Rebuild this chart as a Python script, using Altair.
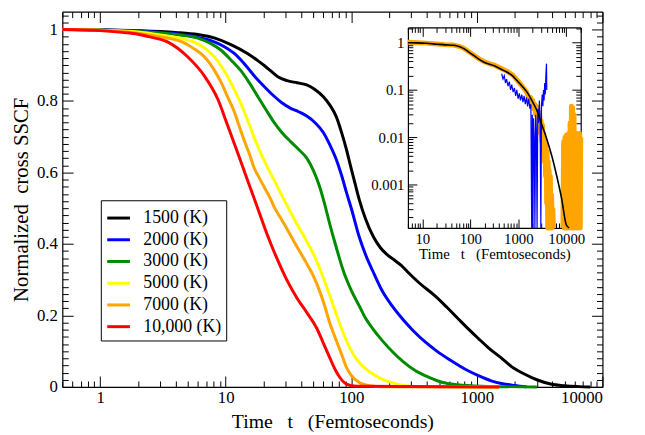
import altair as alt
import pandas as pd

FONT = "Liberation Serif"
W, H = 547, 380
IL, IR, IT, IB = 350, 525, 16, 219  # inset box inside the plot area

names = ["1500 (K)", "2000 (K)", "3000 (K)", "5000 (K)", "7000 (K)", "10,000 (K)"]
colors = ["#000000", "#0000ff", "#008b00", "#ffff00", "#ffa500", "#ff0000"]

t_1500 = [0.5, 1, 2, 4, 6, 8.2, 11, 14.9, 18, 20.5, 22.7, 26, 30.8, 37, 44.2, 51, 59.9, 68, 76.2, 84,
          91.4, 100, 107, 115.6, 130, 150, 170, 190, 220, 250, 288, 350, 467, 580, 713, 850, 1024, 1250,
          1563, 1900, 2388, 3000, 3870, 5000, 6500, 8000]
y_1500 = [1.0, 0.999, 0.997, 0.992, 0.986, 0.976, 0.958, 0.933, 0.913, 0.898, 0.885, 0.868, 0.857, 0.851,
          0.845, 0.833, 0.812, 0.787, 0.755, 0.71, 0.665, 0.61, 0.57, 0.525, 0.47, 0.42, 0.39, 0.372, 0.355,
          0.34, 0.318, 0.29, 0.254, 0.222, 0.19, 0.163, 0.136, 0.108, 0.081, 0.056, 0.036, 0.02, 0.008,
          0.003, 0.0008, 0.0]

t_2000 = [0.5, 1, 2, 4, 6, 8.2, 10, 11.7, 14, 17.9, 21, 24.2, 28, 32.7, 38, 44.2, 52, 59.9, 68, 76.2, 84,
          91.4, 100, 115.6, 130, 148, 178, 210, 256, 310, 390, 480, 594, 720, 853, 1050, 1300, 1600, 2000, 2500]
y_2000 = [1.0, 0.999, 0.996, 0.988, 0.978, 0.965, 0.95, 0.933, 0.905, 0.86, 0.835, 0.814, 0.795, 0.78,
          0.77, 0.758, 0.738, 0.712, 0.675, 0.635, 0.59, 0.545, 0.5, 0.42, 0.37, 0.325, 0.266, 0.228, 0.19,
          0.158, 0.125, 0.1, 0.078, 0.06, 0.045, 0.03, 0.017, 0.009, 0.004, 0.0]

t_3000 = [0.5, 1, 2, 4, 6, 7.5, 9.2, 11, 13.2, 15.5, 17.9, 21, 24.2, 28, 32.7, 38, 44.2, 50, 56, 61, 67.5,
          76, 86, 100, 115.6, 130, 148, 178, 212, 260, 325, 420, 527, 700, 1089, 3000]
y_3000 = [1.0, 0.999, 0.995, 0.986, 0.976, 0.962, 0.942, 0.915, 0.885, 0.85, 0.814, 0.775, 0.741, 0.712,
          0.687, 0.665, 0.64, 0.605, 0.56, 0.515, 0.455, 0.39, 0.327, 0.27, 0.227, 0.192, 0.163, 0.128,
          0.099, 0.07, 0.045, 0.026, 0.013, 0.006, 0.002, 0.0]

t_5000 = [0.5, 1, 2, 3, 4.45, 6, 7, 8.2, 9.2, 10.4, 11.7, 13.2, 14.5, 15.8, 17.3, 19, 20.8, 22.7, 25, 27.3,
          30, 32.7, 36, 39.2, 43, 47, 51, 56, 61, 67.5, 74, 80.9, 91.4, 97, 110, 131, 155, 178, 220, 256,
          320, 1500]
y_5000 = [1.0, 0.998, 0.993, 0.985, 0.975, 0.96, 0.945, 0.922, 0.898, 0.867, 0.832, 0.793, 0.758, 0.724,
          0.688, 0.654, 0.625, 0.598, 0.57, 0.543, 0.515, 0.49, 0.463, 0.44, 0.415, 0.39, 0.365, 0.332,
          0.298, 0.255, 0.215, 0.177, 0.13, 0.11, 0.078, 0.05, 0.032, 0.021, 0.01, 0.005, 0.001, 0.0]

t_7000 = [0.5, 1, 2, 3, 4.45, 5.5, 6.8, 8, 9.2, 10.4, 11.7, 12.8, 14.1, 15.5, 16.8, 18.5, 20.2, 22.7, 24.2,
          27.3, 31, 34.7, 39, 44.2, 50, 56, 61, 67.5, 74, 80.9, 86, 91.4, 100, 115.6, 140, 178, 1500]
y_7000 = [1.0, 0.998, 0.99, 0.98, 0.966, 0.948, 0.923, 0.89, 0.852, 0.81, 0.77, 0.73, 0.688, 0.65, 0.614,
          0.585, 0.56, 0.527, 0.505, 0.473, 0.44, 0.409, 0.378, 0.345, 0.31, 0.268, 0.23, 0.178, 0.14,
          0.105, 0.08, 0.055, 0.032, 0.012, 0.003, 0.0005, 0.0]

t_10000 = [0.5, 1, 1.5, 2, 2.43, 3.5, 5, 6.8, 8.66, 10.35, 12.43, 14.9, 17.87, 21.43, 25.69, 30.8, 36.9,
           44.3, 53.1, 60, 67.5, 74, 80.9, 91.4, 110, 1500]
y_10000 = [1.0, 0.997, 0.992, 0.987, 0.98, 0.964, 0.923, 0.869, 0.805, 0.732, 0.656, 0.579, 0.503, 0.426,
           0.358, 0.298, 0.249, 0.208, 0.164, 0.122, 0.081, 0.05, 0.027, 0.008, 0.002, 0.0]

# inset: smooth fit (black), data (orange, two pieces), noisy data (blue)
it_fit = [5, 8, 12, 20, 30, 45, 60, 73, 90, 117, 150, 189, 250, 305, 420, 575, 750, 927, 1200, 1493,
          2000, 2400, 3000, 3875, 5000, 6240, 8000, 10000, 11500]
iy_fit = [1.0, 0.99, 0.97, 0.93, 0.9, 0.88, 0.82, 0.75, 0.65, 0.54, 0.45, 0.39, 0.35, 0.33, 0.28, 0.24,
          0.2, 0.16, 0.12, 0.092, 0.055, 0.038, 0.02, 0.0095, 0.004, 0.0016, 0.0005, 0.00014, 0.00005]

io_t_a = [5, 8, 12, 20, 30, 45, 60, 73, 90, 117, 150, 189, 250, 305, 420, 575, 750, 927, 1200, 1493,
          1600, 1700, 1800, 1900, 2000, 2100, 2200, 2300, 2400, 2500, 2600, 2700, 2800, 2900, 3000, 3100,
          3200, 3300, 3400, 3500, 3600, 3700, 3800, 3900, 4000, 4100, 4200, 4300, 4400, 4500, 4650, 4800,
          4950, 5100, 5250, 5400]
io_y_a = [1.02, 1.0, 0.98, 0.94, 0.91, 0.89, 0.83, 0.76, 0.66, 0.55, 0.46, 0.4, 0.36, 0.34, 0.29, 0.25,
          0.21, 0.165, 0.12, 0.09, 0.075, 0.06, 0.07, 0.05, 0.06, 0.04, 0.05, 0.03, 0.045, 0.025, 0.035,
          0.018, 0.03, 0.012, 0.022, 0.008, 0.018, 0.005, 0.012, 0.003, 0.009, 0.0015, 0.007, 0.0004,
          0.005, 1e-6, 0.003, 1e-6, 0.002, 1e-6, 0.0015, 1e-6, 0.0006, 1e-6, 0.0003, 1e-6]
io_t_b = [8500, 8800, 9100, 9400, 9700, 10000, 10300, 10600, 10900, 11200, 11600, 12000, 12400, 12800,
          13200, 13600, 14000, 14500, 15000, 15500, 16000, 16600, 17200, 17800, 18400, 19000, 19600, 20000]
io_y_b = [1e-6, 0.008, 1e-6, 0.01, 1e-6, 0.011, 1e-6, 0.011, 1e-6, 0.012, 1e-6, 0.02, 1e-6, 0.045, 1e-6,
          0.042, 1e-6, 0.03, 1e-6, 0.012, 1e-6, 0.012, 1e-6, 0.011, 1e-6, 0.012, 1e-6, 0.01]

ib_t = [450, 480, 510, 540, 570, 610, 650, 690, 730, 780, 830, 880, 930, 990, 1050, 1110, 1180, 1250,
        1320, 1400, 1480, 1560, 1650, 1740, 1830, 1900, 1960, 2020, 2080, 2150, 2220, 2300, 2380, 2460,
        2550, 2650, 2750, 2850, 2950, 3050, 3150, 3250, 3350, 3450, 3550, 3650, 3750, 3870, 3920]
ib_y = [0.22, 0.17, 0.2, 0.14, 0.17, 0.12, 0.15, 0.1, 0.13, 0.09, 0.11, 0.075, 0.1, 0.065, 0.085, 0.06,
        0.08, 0.055, 0.075, 0.05, 0.07, 0.045, 0.065, 0.04, 0.05, 1e-6, 0.03, 1e-6, 0.025, 0.01, 1e-6,
        0.03, 0.015, 1e-6, 0.04, 0.02, 0.06, 0.025, 1e-6, 0.05, 0.08, 0.045, 0.1, 0.06, 0.14, 0.08, 0.2,
        0.36, 0.1]

main_x_labels = [1, 10, 100, 1000, 10000]
main_y_labels = [0, 0.2, 0.4, 0.6, 0.8, 1]
inset_x_labels = [10, 100, 1000, 10000]
inset_y_labels = [0.001, 0.01, 0.1, 1]

tick_x_main = [k * 10 ** e for e in range(-1, 5) for k in range(1, 10) if 0.5 <= k * 10 ** e <= 10000]
tick_y_main = [round(0.02 * i, 2) for i in range(53)]
tick_x_in = [k * 10 ** e for e in range(0, 5) for k in range(1, 10) if 5 <= k * 10 ** e <= 20000]
tick_y_in = [k * 10.0 ** e for e in range(-4, 1) for k in range(1, 10) if 1.2e-4 <= k * 10.0 ** e <= 2.1]

LOGTEST = "abs(log(datum.value)/LN10 - round(log(datum.value)/LN10)) < 0.001"
LINTEST = "abs(datum.value*5 - round(datum.value*5)) < 0.001"

NBSP = "\u00a0"
x_title = f"Time{NBSP*3}t{NBSP*3}(Femtoseconds)"
y_title = f"Normalized{NBSP*2}cross{NBSP}SSCF"


def xs_main():
    return alt.Scale(type="log", domain=[0.5, 10000], nice=False)


def ys_main():
    return alt.Scale(domain=[0, 1.05], nice=False, zero=False)


def xs_in():
    return alt.Scale(type="log", domain=[5, 20000], range=[IL, IR], nice=False, clamp=True)


def ys_in():
    return alt.Scale(type="log", domain=[1.2e-4, 2.1], range=[IB, IT], nice=False, clamp=True)


def tick_axis(orient, offset, values, test, big, small, domain=False):
    return alt.Axis(orient=orient, offset=offset, values=values, labels=False, domain=domain,
                    title=None, grid=False, ticks=True,
                    tickSize={"condition": {"test": test, "value": big}, "value": small},
                    tickColor="black", tickWidth=1, domainColor="black", domainWidth=1.2)


legend = alt.Legend(title=None, orient="none", legendX=39, legendY=191, direction="vertical",
                    symbolType="stroke", symbolSize=529, symbolStrokeWidth=3, labelFont=FONT,
                    labelFontSize=18, labelOffset=12, rowPadding=-5, padding=5,
                    strokeColor="black", fillColor="white", labelColor="black")

series = [(names[0], t_1500, y_1500), (names[1], t_2000, y_2000), (names[2], t_3000, y_3000),
          (names[3], t_5000, y_5000), (names[4], t_7000, y_7000), (names[5], t_10000, y_10000)]

layers = []
for i, (name, ts, ys) in enumerate(series):
    df = pd.DataFrame({"t": ts, "y": ys, "series": name})
    if i == 0:
        xax = alt.Axis(orient="bottom", values=main_x_labels, format="d", ticks=False, domain=True,
                       domainColor="black", domainWidth=1.2, labelFontSize=17, labelPadding=3,
                       title=x_title, titleFontSize=20, titleBaseline="alphabetic", titleY=41,
                       grid=False)
        yax = alt.Axis(orient="left", values=main_y_labels, format="~g", ticks=False, domain=True,
                       domainColor="black", domainWidth=1.2, labelFontSize=17, labelPadding=5,
                       title=y_title, titleFontSize=21, titlePadding=5, grid=False)
    else:
        xax = None
        yax = None
    layers.append(
        alt.Chart(df).mark_line(strokeWidth=3, interpolate="monotone").encode(
            x=alt.X("t:Q", scale=xs_main(), axis=xax),
            y=alt.Y("y:Q", scale=ys_main(), axis=yax),
            color=alt.Color("series:N", scale=alt.Scale(domain=names, range=colors), legend=legend),
        )
    )

dummy_main = pd.DataFrame({"t": [1.0], "y": [0.5]})
layers.append(alt.Chart(dummy_main).mark_point(opacity=0).encode(
    x=alt.X("t:Q", scale=xs_main(), axis=tick_axis("top", -H, tick_x_main, LOGTEST, 11, 6)),
    y=alt.Y("y:Q", scale=ys_main(), axis=tick_axis("right", -W, tick_y_main, LINTEST, 11, 6)),
))
layers.append(alt.Chart(dummy_main).mark_point(opacity=0).encode(
    x=alt.X("t:Q", scale=xs_main(), axis=tick_axis("bottom", -H, tick_x_main, LOGTEST, 11, 6, True)),
    y=alt.Y("y:Q", scale=ys_main(), axis=tick_axis("left", -W, tick_y_main, LINTEST, 11, 6, True)),
))

# inset
orange_df = pd.concat([
    pd.DataFrame({"t": io_t_a, "y": io_y_a, "seg": "a"}),
    pd.DataFrame({"t": io_t_b, "y": io_y_b, "seg": "b"}),
])
layers.append(alt.Chart(orange_df).mark_line(strokeWidth=5, color="#ffa500", strokeJoin="round").encode(
    x=alt.X("t:Q", scale=xs_in(),
            axis=alt.Axis(orient="bottom", offset=IB - H, values=inset_x_labels, format="d", ticks=False,
                          domain=True, domainColor="black", domainWidth=1.2, labelFontSize=15,
                          labelPadding=4, title=x_title, titleFontSize=15, titlePadding=0, grid=False)),
    y=alt.Y("y:Q", scale=ys_in(),
            axis=alt.Axis(orient="left", offset=-IL, values=inset_y_labels, format="~g", ticks=False,
                          domain=True, domainColor="black", domainWidth=1.2, labelFontSize=15,
                          labelPadding=4, title=None, grid=False)),
    detail="seg:N",
))
layers.append(alt.Chart(pd.DataFrame({"t": ib_t, "y": ib_y})).mark_line(strokeWidth=1.2, color="#0000ff").encode(
    x=alt.X("t:Q", scale=xs_in(), axis=None),
    y=alt.Y("y:Q", scale=ys_in(), axis=None),
))
layers.append(alt.Chart(pd.DataFrame({"t": it_fit, "y": iy_fit})).mark_line(
    strokeWidth=1.6, color="#000000", interpolate="monotone").encode(
    x=alt.X("t:Q", scale=xs_in(), axis=None),
    y=alt.Y("y:Q", scale=ys_in(), axis=None),
))
dummy_in = pd.DataFrame({"t": [100.0], "y": [0.1]})
layers.append(alt.Chart(dummy_in).mark_point(opacity=0).encode(
    x=alt.X("t:Q", scale=xs_in(), axis=tick_axis("top", -IB, tick_x_in, LOGTEST, 9, 5)),
    y=alt.Y("y:Q", scale=ys_in(), axis=tick_axis("right", IL - W, tick_y_in, LOGTEST, 9, 5)),
))
layers.append(alt.Chart(dummy_in).mark_point(opacity=0).encode(
    x=alt.X("t:Q", scale=xs_in(), axis=tick_axis("bottom", IT - H, tick_x_in, LOGTEST, 9, 5, True)),
    y=alt.Y("y:Q", scale=ys_in(), axis=tick_axis("left", -IR, tick_y_in, LOGTEST, 9, 5, True)),
))

chart = (
    alt.layer(*layers)
    .resolve_scale(x="independent", y="independent")
    .resolve_axis(x="independent", y="independent")
    .properties(width=W, height=H, autosize=alt.AutoSizeParams(type="none"),
                padding={"left": 55, "top": 1, "right": 35, "bottom": 46}, background="white")
    .configure_axis(labelFont=FONT, titleFont=FONT, labelColor="black", titleColor="black",
                    titleFontWeight="normal", grid=False)
    .configure_view(stroke=None)
)

chart.save("out.html", embed_options={"renderer": "svg", "actions": False})
